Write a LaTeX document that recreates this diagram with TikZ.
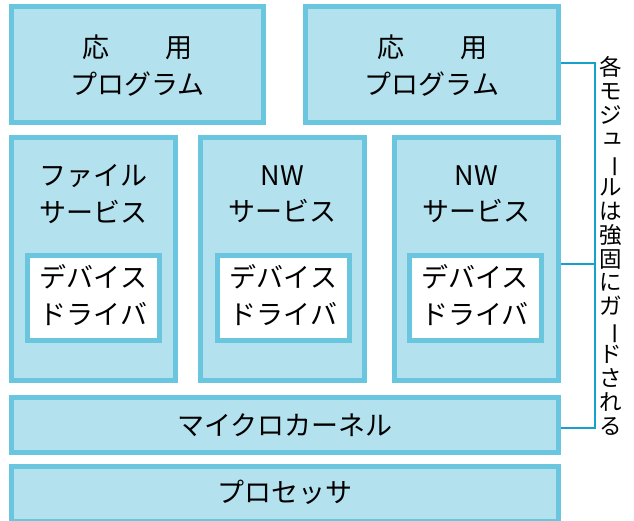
\documentclass[tikz,border=0pt]{standalone}
\usepackage{fontspec}
\newfontfamily\jp{Noto Sans CJK JP}
\usetikzlibrary{backgrounds,calc}
\definecolor{bg}{RGB}{179,225,237}
\definecolor{bd}{RGB}{106,197,222}
\definecolor{brk}{RGB}{22,160,204}
\newcommand{\vchoon}{\rotatebox[origin=c]{-90}{ー}}
\newcommand{\vsmallyu}{\makebox[1em]{\hspace{0.18em}\raisebox{0.14em}{ュ}}}
\tikzset{
  blk/.style={draw=bd, fill=bg, line width=5pt, inner sep=0pt},
  drv/.style={draw=bd, fill=white, line width=5pt, inner sep=0pt, minimum width=132pt, minimum height=85pt},
  txt/.style={font=\jp\fontsize{27}{36.5}\selectfont, align=center, inner sep=0pt, text=black},
  mid/.style={blk, minimum width=164pt, minimum height=243pt},
  bar/.style={blk, minimum width=547pt, minimum height=55pt},
  brline/.style={draw=brk, line width=2pt}
}
\begin{document}
\begin{tikzpicture}[x=1pt,y=-1pt]
\useasboundingbox (0,0) rectangle (634,520);
\clip (0,0) rectangle (634,520);
% top application boxes
\node[blk, minimum width=252pt, minimum height=116pt] (app1) at (137.5,64.5) {};
\node[txt] (app1t) at (137.5,65.5) {応\hspace{56pt}用\\プログラム};
\node[blk, minimum width=253pt, minimum height=116pt] (app2) at (432,64.5) {};
\node[txt] (app2t) at (432,65.5) {応\hspace{56pt}用\\プログラム};
% middle service boxes
\node[mid] (fs) at (93.5,259) {};
\node[txt] (fst) at (93.5,194) {ファイル\\サービス};
\node[mid] (nw1) at (282.5,259) {};
\node[txt] (nw1t) at (282.5,194) {NW\\サービス};
\node[mid] (nw2) at (476.5,259) {};
\node[txt] (nw2t) at (476.5,194) {NW\\サービス};
% driver boxes
\node[drv] (d1) at (93.5,298) {};
\node[txt] (d1t) at (93.5,295) {デバイス\\ドライバ};
\node[drv] (d2) at (283.5,298) {};
\node[txt] (d2t) at (283.5,295) {デバイス\\ドライバ};
\node[drv] (d3) at (475,298) {};
\node[txt] (d3t) at (475,295) {デバイス\\ドライバ};
% kernel and processor
\node[bar] (mk) at (285,425) {};
\node[txt] (mkt) at (285,425) {マイクロカーネル};
\node[bar] (pr) at (285,494) {};
\node[txt] (prt) at (285,492) {プロセッサ};
% bracket
\coordinate (br) at (595,0);
\begin{pgfonlayer}{background}
\fill[white] (0,0) rectangle (634,520);
\draw[brline] ([yshift=1.5pt]app2.east) -- ([yshift=1.5pt]app2.east -| br) -- ([yshift=-3pt]mk.east -| br) -- ([yshift=-3pt]mk.east);
\draw[brline] ([yshift=-5pt]nw2.east) -- ([yshift=-5pt]nw2.east -| br);
\end{pgfonlayer}
\node[font=\jp\fontsize{22.5}{23.9}\selectfont, align=center, inner sep=0pt] (guard) at (611,246)
  {各\\モ\\ジ\\\vsmallyu\\\vchoon\\ル\\は\\強\\固\\に\\ガ\\\vchoon\\ド\\さ\\れ\\る};
\end{tikzpicture}
\end{document}
